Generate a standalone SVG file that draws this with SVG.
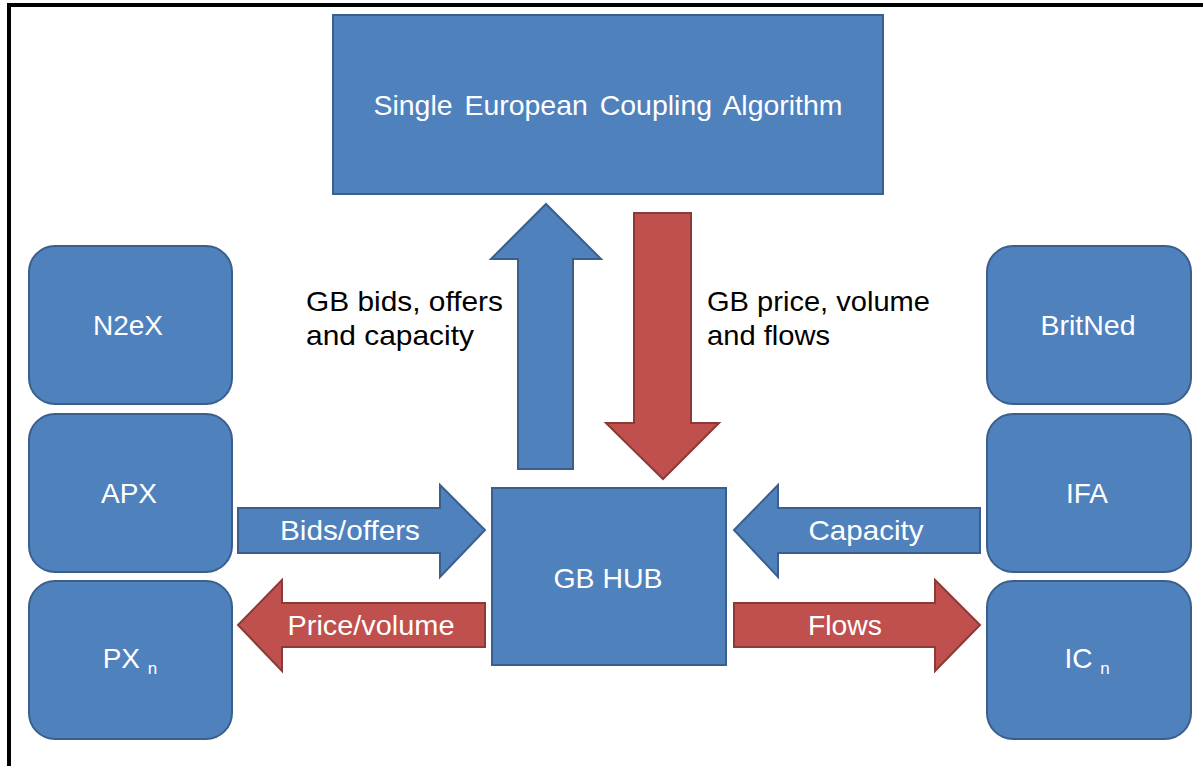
<svg xmlns="http://www.w3.org/2000/svg" width="1203" height="766" viewBox="0 0 1203 766">
<style>
.box{fill:#4F81BD;stroke:#3A5F8C;stroke-width:2}
.blue{fill:#4F81BD;stroke:#3A5F8C;stroke-width:2;stroke-linejoin:miter}
.red{fill:#C0504D;stroke:#8C3A37;stroke-width:2;stroke-linejoin:miter}
.wt{fill:#FFFFFF;font-family:"Liberation Sans",Arial,sans-serif;font-size:28px;text-anchor:middle}
.bt{fill:#000000;font-family:"Liberation Sans",Arial,sans-serif;font-size:28px}
.sub{font-size:17px}
</style>
<rect x="0" y="0" width="1203" height="766" fill="#FFFFFF"/>
<polyline points="9,766 9,5 1203,5" fill="none" stroke="#000000" stroke-width="4"/>

<g id="seca">
<rect class="box" x="333" y="15" width="550" height="179"/>
<text class="wt" x="608" y="115" textLength="469" lengthAdjust="spacingAndGlyphs" word-spacing="4">Single European Coupling Algorithm</text>
</g>

<g id="gbhub">
<rect class="box" x="492" y="488" width="234" height="177"/>
<text class="wt" x="608" y="588" textLength="109" lengthAdjust="spacingAndGlyphs">GB HUB</text>
</g>

<g id="n2ex">
<rect class="box" x="29" y="246" width="203" height="158" rx="26" ry="26"/>
<text class="wt" x="128" y="335">N2eX</text>
</g>
<g id="apx">
<rect class="box" x="29" y="414" width="203" height="158" rx="26" ry="26"/>
<text class="wt" x="129" y="503">APX</text>
</g>
<g id="pxn">
<rect class="box" x="29" y="581" width="203" height="158" rx="26" ry="26"/>
<text class="wt" x="130" y="668">PX <tspan class="sub" dy="6">n</tspan></text>
</g>

<g id="britned">
<rect class="box" x="987" y="246" width="204" height="158" rx="26" ry="26"/>
<text class="wt" x="1088" y="335" textLength="95" lengthAdjust="spacingAndGlyphs">BritNed</text>
</g>
<g id="ifa">
<rect class="box" x="987" y="414" width="204" height="158" rx="26" ry="26"/>
<text class="wt" x="1087" y="503">IFA</text>
</g>
<g id="icn">
<rect class="box" x="987" y="581" width="204" height="158" rx="26" ry="26"/>
<text class="wt" x="1087" y="668">IC <tspan class="sub" dy="6">n</tspan></text>
</g>

<g id="connectors">
<!-- up arrow: GB HUB to SECA -->
<polygon class="blue" points="518,469 573,469 573,259 601,259 546,204 491,259 518,259"/>
<!-- down arrow: SECA to GB HUB -->
<polygon class="red" points="634,213 691,213 691,423 719,423 663,479 606,423 634,423"/>
<!-- Bids/offers -->
<polygon class="blue" points="238,508 440,508 440,485 485,530 440,577 440,553 238,553"/>
<text class="wt" x="350" y="540" textLength="140" lengthAdjust="spacingAndGlyphs">Bids/offers</text>
<!-- Capacity -->
<polygon class="blue" points="980,508 778,508 778,485 734,530 778,577 778,553 980,553"/>
<text class="wt" x="866" y="540" textLength="115" lengthAdjust="spacingAndGlyphs">Capacity</text>
<!-- Price/volume -->
<polygon class="red" points="485,603 282,603 282,580 238,625 282,671 282,647 485,647"/>
<text class="wt" x="371" y="635" textLength="167" lengthAdjust="spacingAndGlyphs">Price/volume</text>
<!-- Flows -->
<polygon class="red" points="734,603 935,603 935,580 980,625 935,671 935,647 734,647"/>
<text class="wt" x="845" y="635" textLength="74" lengthAdjust="spacingAndGlyphs">Flows</text>

<text class="bt" x="306" y="311" textLength="197" lengthAdjust="spacingAndGlyphs">GB bids, offers</text>
<text class="bt" x="306" y="345" textLength="168" lengthAdjust="spacingAndGlyphs">and capacity</text>
<text class="bt" x="707" y="311" textLength="223" lengthAdjust="spacingAndGlyphs">GB price, volume</text>
<text class="bt" x="707" y="345" textLength="123" lengthAdjust="spacingAndGlyphs">and flows</text>
</g>
</svg>
